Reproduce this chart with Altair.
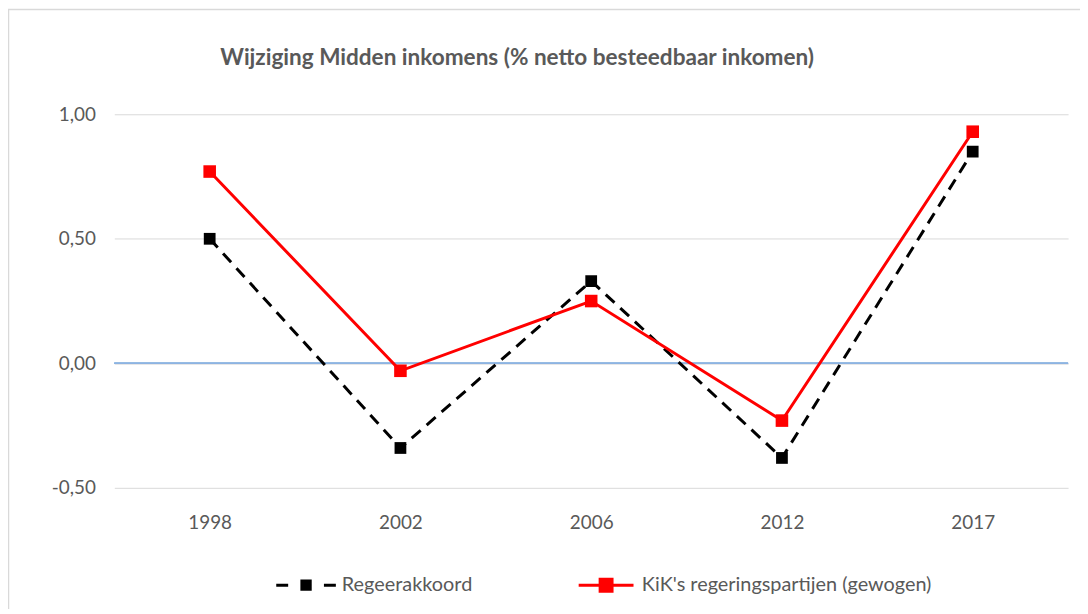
import altair as alt
import pandas as pd

years = ["1998", "2002", "2006", "2012", "2017"]
regeerakkoord = [0.50, -0.34, 0.33, -0.38, 0.85]
kik = [0.77, -0.03, 0.25, -0.23, 0.93]
series_names = ["Regeerakkoord", "KiK's regeringspartijen (gewogen)"]
y_ticks = [-0.5, 0.0, 0.5, 1.0]
title_text = "Wijziging Midden inkomens (% netto besteedbaar inkomen)"

rows = []
for y, v in zip(years, regeerakkoord):
    rows.append({"series": series_names[0], "year": y, "value": v})
for y, v in zip(years, kik):
    rows.append({"series": series_names[1], "year": y, "value": v})
df = pd.DataFrame(rows)

FONT = "Lato"
GRAY = "#595959"
W, H = 960, 376

x_enc = alt.X("year:O", sort=years, scale=alt.Scale(type="point", padding=0.5),
              axis=alt.Axis(title=None, labelAngle=0, ticks=False, domain=False,
                            labelPadding=26, labelFontSize=19, labelColor=GRAY,
                            labelFont=FONT, grid=False))
y_scale = alt.Scale(domain=[-0.5, 1.0], nice=False, zero=False)
y_enc = alt.Y("value:Q", scale=y_scale,
              axis=alt.Axis(title=None, values=y_ticks, ticks=False, domain=False,
                            labelExpr="replace(replace(format(datum.value, '.2f'), '.', ','), '\u2212', '-')",
                            labelPadding=19, labelFontSize=19, labelColor=GRAY,
                            labelFont=FONT, grid=True, gridColor="#d9d9d9", gridWidth=1))

base = alt.Chart(df)

zero = base.mark_rule(color="#8db3e2", strokeWidth=1).encode(y=alt.datum(0.0))

black_line = base.transform_filter(alt.datum.series == series_names[0]).mark_line(
    color="black", strokeWidth=3, strokeDash=[12, 8]).encode(x=x_enc, y=y_enc)
red_line = base.transform_filter(alt.datum.series == series_names[1]).mark_line(
    color="#ff0000", strokeWidth=3).encode(x=x_enc, y=y_enc)
black_pts = base.transform_filter(alt.datum.series == series_names[0]).mark_point(
    shape="square", filled=True, color="black", size=140, opacity=1).encode(x=x_enc, y=y_enc)
red_pts = base.transform_filter(alt.datum.series == series_names[1]).mark_point(
    shape="square", filled=True, color="#ff0000", size=160, opacity=1).encode(x=x_enc, y=y_enc)

black_sym = ("M-1,-0.05L-0.6,-0.05L-0.6,0.05L-1,0.05Z "
             "M-0.19,-0.19L0.19,-0.19L0.19,0.19L-0.19,0.19Z "
             "M0.6,-0.05L1,-0.05L1,0.05L0.6,0.05Z")
red_sym = ("M-0.92,-0.05L0.92,-0.05L0.92,0.05L-0.92,0.05Z "
           "M-0.25,-0.25L0.25,-0.25L0.25,0.25L-0.25,0.25Z")

leg = alt.Legend(title=None, orient="none", direction="horizontal",
                 legendX=163, legendY=444, labelFontSize=20,
                 labelColor=GRAY, labelFont=FONT, labelOffset=6, labelLimit=500,
                 columnPadding=104, symbolSize=3600, symbolStrokeWidth=0)

legend_layer = base.transform_filter("false").mark_point(filled=True, opacity=1, size=3600).encode(
    x=x_enc, y=y_enc,
    color=alt.Color("series:N", scale=alt.Scale(domain=series_names, range=["black", "#ff0000"]),
                    legend=leg),
    shape=alt.Shape("series:N", scale=alt.Scale(domain=series_names, range=[black_sym, red_sym]),
                    legend=leg),
)

border_top = alt.Chart(pd.DataFrame({"a": [0]})).mark_rule(color="#d9d9d9", strokeWidth=1.5).encode(
    x=alt.value(-107), x2=alt.value(W + 20), y=alt.value(-105.5))
border_left = alt.Chart(pd.DataFrame({"a": [0]})).mark_rule(color="#d9d9d9", strokeWidth=1.5).encode(
    x=alt.value(-106.5), y=alt.value(-106), y2=alt.value(H + 130))

chart = alt.layer(
    border_top, border_left, zero, black_line, red_line, black_pts, red_pts, legend_layer
).properties(
    width=W, height=H,
    title=alt.TitleParams(title_text, fontSize=22.7, font=FONT, fontWeight="bold",
                          color=GRAY, anchor="middle", dx=-74.5, offset=0, dy=61.5),
    autosize=alt.AutoSizeParams(type="none"),
    padding={"left": 107, "top": 105, "right": 12, "bottom": 120},
).configure_view(stroke=None)

chart.save("out.html", embed_options={"renderer": "svg", "actions": False})
